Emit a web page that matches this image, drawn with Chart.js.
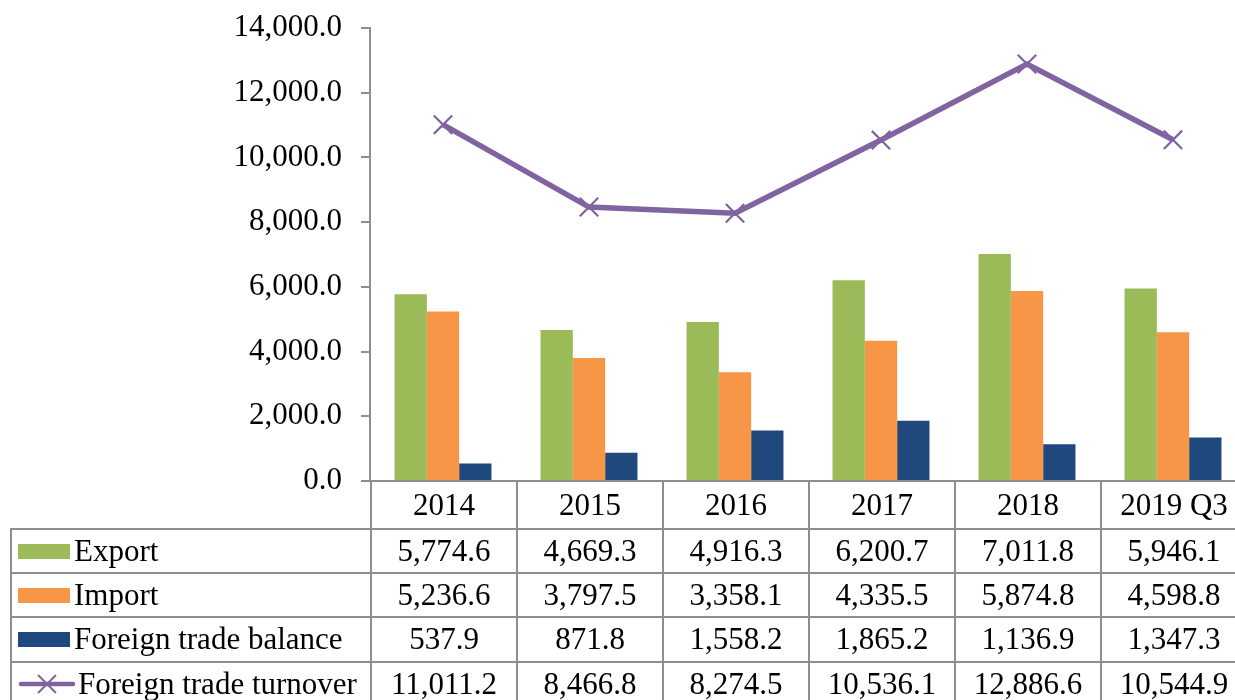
<!DOCTYPE html>
<html>
<head>
<meta charset="utf-8">
<script src="https://cdn.jsdelivr.net/npm/chart.js@4.4.1/dist/chart.umd.min.js"></script>
<style>
  html, body { margin: 0; padding: 0; background: #fff; overflow: hidden; width: 1235px; height: 700px; }
  #wrap { position: relative; width: 1262px; height: 700px; }
  #dataTable {
    position: absolute; top: 480px; left: 10px;
    border-collapse: collapse; table-layout: fixed;
    font-family: 'Liberation Serif', 'Times New Roman', serif; font-size: 31px; color: #000;
  }
  #dataTable td { border: 2px solid #8e8e8e; text-align: center; padding: 0; white-space: nowrap; overflow: hidden; line-height: 34px; }
  #dataTable td.corner { border-top: none; border-left: none; }
  #dataTable td.name { text-align: left; padding-left: 6px; }
  .swatch { display: inline-block; width: 52px; height: 15px; margin-right: 4px; vertical-align: 2px; }
  .lineKey { display: inline-block; vertical-align: -1px; margin-right: 2px; }
</style>
</head>
<body>
<div id="wrap">
  <canvas id="chart"></canvas>
  <table id="dataTable"></table>
</div>
<script>
/* ---------------- DATA ---------------- */
const categories = ["2014", "2015", "2016", "2017", "2018", "2019 Q3"];
const exportVals   = [5774.6, 4669.3, 4916.3, 6200.7, 7011.8, 5946.1];
const importVals   = [5236.6, 3797.5, 3358.1, 4335.5, 5874.8, 4598.8];
const balanceVals  = [537.9, 871.8, 1558.2, 1865.2, 1136.9, 1347.3];
const turnoverVals = [11011.2, 8466.8, 8274.5, 10536.1, 12886.6, 10544.9];
const yTicks = [0, 2000, 4000, 6000, 8000, 10000, 12000, 14000];
/* -------------------------------------- */

const GREEN = "#9bbb59", ORANGE = "#f79646", NAVY = "#1f497d", PURPLE = "#8064a2";
const FONT = "'Liberation Serif', 'Times New Roman', serif";

const fmt = v => v.toLocaleString("en-US", { minimumFractionDigits: 1, maximumFractionDigits: 1 });

const series = [
    { label: "Export", data: exportVals, color: GREEN, type: "bar" },
    { label: "Import", data: importVals, color: ORANGE, type: "bar" },
    { label: "Foreign trade balance", data: balanceVals, color: NAVY, type: "bar" },
    { label: "Foreign trade turnover", data: turnoverVals, color: PURPLE, type: "line" }
];

const datasets = series.map(s => s.type === "bar" ? {
    type: "bar", label: s.label, data: s.data,
    backgroundColor: s.color, borderWidth: 0,
    barPercentage: 1, categoryPercentage: 0.664, order: 1
} : {
    type: "line", label: s.label, data: s.data,
    borderColor: s.color, borderWidth: 5.5, tension: 0,
    pointStyle: "crossRot", pointRadius: 13, pointBorderWidth: 2.2,
    pointBorderColor: s.color, pointBackgroundColor: s.color, order: 0
});

// plot spans x 370..1246 (last column runs past the 1235px window, as in the source)
const chart = new Chart(document.getElementById("chart"), {
    data: { labels: categories, datasets },
    options: {
        responsive: true,
        maintainAspectRatio: false,
        animation: false,
        layout: { padding: { top: 28, bottom: 219, right: 16, left: 0 } },
        plugins: { legend: { display: false }, tooltip: { enabled: false } },
        scales: {
            x: { display: false, offset: true },
            y: {
                min: 0, max: 14000,
                afterBuildTicks: s => { s.ticks = yTicks.map(v => ({ value: v })); },
                afterFit: s => { s.width = 370; s.paddingTop = 0; s.paddingBottom = 0; },
                border: { display: true, color: "#8e8e8e", width: 2 },
                grid: { drawOnChartArea: false, drawTicks: true, tickLength: 9, color: "#8e8e8e", lineWidth: 2 },
                ticks: { color: "#000", padding: 19, font: { family: FONT, size: 31 }, callback: v => fmt(v) }
            }
        }
    }
});

/* ---------- Data table under the plot ---------- */
function buildTable() {
    const area = chart.chartArea;
    const colW = (area.right - area.left) / categories.length;
    const table = document.getElementById("dataTable");
    let html = `<colgroup><col style="width:${area.left - 10}px">`;
    categories.forEach(() => { html += `<col style="width:${colW}px">`; });
    html += `</colgroup>`;

    html += `<tr style="height:47.5px"><td class="corner"></td>`;
    categories.forEach(c => { html += `<td>${c}</td>`; });
    html += `</tr>`;

    series.forEach(s => {
        let key;
        if (s.type === "bar") {
            key = `<span class="swatch" style="background:${s.color}"></span>`;
        } else {
            key = `<svg class="lineKey" width="58" height="22"><line x1="3" y1="11" x2="55" y2="11" stroke="${s.color}" stroke-width="4.5" stroke-linecap="round"/>` +
                  `<path d="M20 2 L38 20 M38 2 L20 20" stroke="${s.color}" stroke-width="2"/></svg>`;
        }
        html += `<tr style="height:44.4px"><td class="name">${key}${s.label}</td>`;
        s.data.forEach(v => { html += `<td>${fmt(v)}</td>`; });
        html += `</tr>`;
    });
    table.innerHTML = html;
}
buildTable();
</script>
</body>
</html>
